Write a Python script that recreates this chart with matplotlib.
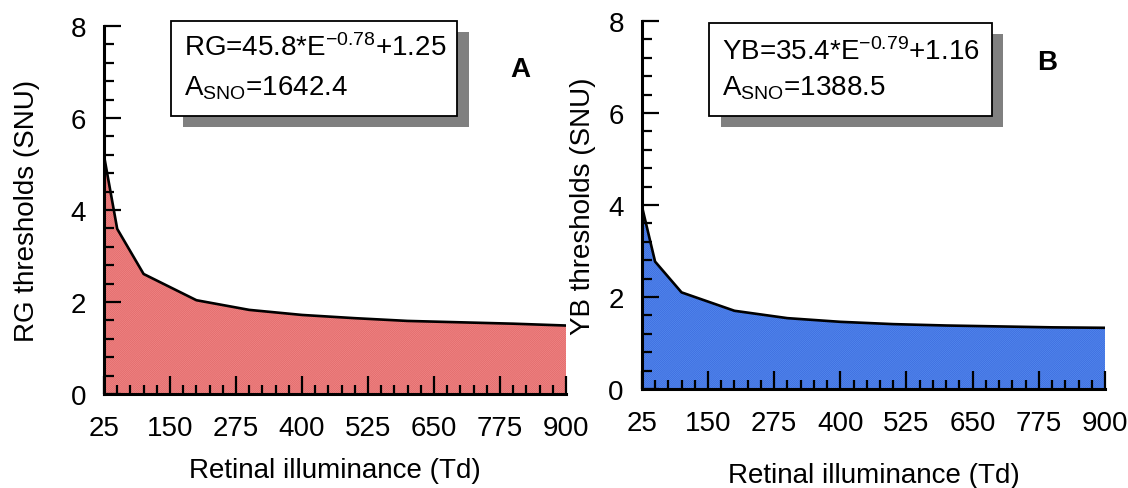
import matplotlib
matplotlib.use("Agg")
import matplotlib.pyplot as plt
import matplotlib.patches as patches
from matplotlib.ticker import FixedLocator, MultipleLocator

plt.rcParams['font.family'] = ['Liberation Sans', 'DejaVu Sans']
plt.rcParams['mathtext.fontset'] = 'custom'
plt.rcParams['mathtext.rm'] = 'Liberation Sans'
plt.rcParams['mathtext.it'] = 'Liberation Sans:italic'
plt.rcParams['hatch.linewidth'] = 0.7

# retinal illuminance (Td)
illuminance = [25, 50, 100, 200, 300, 400, 500, 600, 700, 800, 900]
# thresholds (SNU)
rg_thresholds = [5.18, 3.59, 2.61, 2.04, 1.83, 1.72, 1.65, 1.59, 1.56, 1.53, 1.49]
yb_thresholds = [3.98, 2.77, 2.10, 1.70, 1.54, 1.46, 1.41, 1.38, 1.36, 1.34, 1.33]

x_ticks = [25, 150, 275, 400, 525, 650, 775, 900]
y_ticks = [0, 2, 4, 6, 8]

panels = [
    {"rect": [0.0922, 0.192, 0.4096, 0.753], "y": rg_thresholds,
     "fc": "#f68c8c", "hc": "#e26e6e", "ylabel": "RG thresholds (SNU)",
     "eq": "RG=45.8*E$^{\\mathrm{-0.78}}$+1.25", "area": "A$_{\\mathrm{SNO}}$=1642.4",
     "letter": "A", "box": (0.145, 0.755, 0.619, 0.259), "shadow": (0.171, 0.7255, 0.619, 0.259),
     "txt": (0.173, 0.943, 0.834), "let": (0.90, 0.883), "xl": -0.171, "yl": -0.139},
    {"rect": [0.569, 0.2025, 0.4106, 0.7525], "y": yb_thresholds,
     "fc": "#5c90f2", "hc": "#3f70e0", "ylabel": "YB thresholds (SNU)",
     "eq": "YB=35.4*E$^{\\mathrm{-0.79}}$+1.16", "area": "A$_{\\mathrm{SNO}}$=1388.5",
     "letter": "B", "box": (0.1447, 0.742, 0.611, 0.2526), "shadow": (0.171, 0.712, 0.609, 0.2526),
     "txt": (0.173, 0.918, 0.82), "let": (0.875, 0.889), "xl": -0.198, "yl": -0.10},
]

fig = plt.figure(figsize=(11.28, 4.89), dpi=100)

for p in panels:
    ax = fig.add_axes(p["rect"])
    ax.fill_between(illuminance, p["y"], 0, facecolor=p["fc"], edgecolor=p["hc"],
                    hatch='/' * 16, linewidth=0, zorder=1)
    ax.plot(illuminance, p["y"], color='black', lw=1.9, zorder=2)

    ax.set_xlim(25, 900)
    ax.set_ylim(0, 8)
    ax.xaxis.set_major_locator(FixedLocator(x_ticks))
    ax.xaxis.set_minor_locator(MultipleLocator(25))
    ax.yaxis.set_major_locator(FixedLocator(y_ticks))
    ax.yaxis.set_minor_locator(MultipleLocator(0.4))

    for s in ['top', 'right']:
        ax.spines[s].set_visible(False)
    for s in ['left', 'bottom']:
        ax.spines[s].set_linewidth(2.2)
        ax.spines[s].set_zorder(3)

    ax.tick_params(which='both', direction='in', width=1.6, labelsize=20, zorder=3)
    ax.tick_params(axis='x', which='major', length=13, pad=15)
    ax.tick_params(axis='x', which='minor', length=6.5)
    ax.tick_params(axis='y', which='major', length=12, pad=13)
    ax.tick_params(axis='y', which='minor', length=7)

    ax.set_xlabel("Retinal illuminance (Td)", fontsize=20)
    ax.set_ylabel(p["ylabel"], fontsize=20)
    ax.xaxis.set_label_coords(0.5, p["xl"])
    ax.yaxis.set_label_coords(p["yl"], 0.5)

    # equation box with drop shadow
    sx, sy, sw, sh = p["shadow"]
    ax.add_patch(patches.Rectangle((sx, sy), sw, sh, transform=ax.transAxes,
                                   fc='#808080', ec='none', clip_on=False, zorder=4))
    bx, by, bw, bh = p["box"]
    ax.add_patch(patches.Rectangle((bx, by), bw, bh, transform=ax.transAxes,
                                   fc='white', ec='black', lw=1.3, clip_on=False, zorder=5))
    tx, ty1, ty2 = p["txt"]
    ax.text(tx, ty1, p["eq"], transform=ax.transAxes, fontsize=20,
            ha='left', va='center', zorder=6)
    ax.text(tx, ty2, p["area"], transform=ax.transAxes, fontsize=20,
            ha='left', va='center', zorder=6)
    ax.text(p["let"][0], p["let"][1], p["letter"], transform=ax.transAxes,
            fontsize=20, fontweight='bold', ha='center', va='center')

fig.savefig("out.png", dpi=100)
